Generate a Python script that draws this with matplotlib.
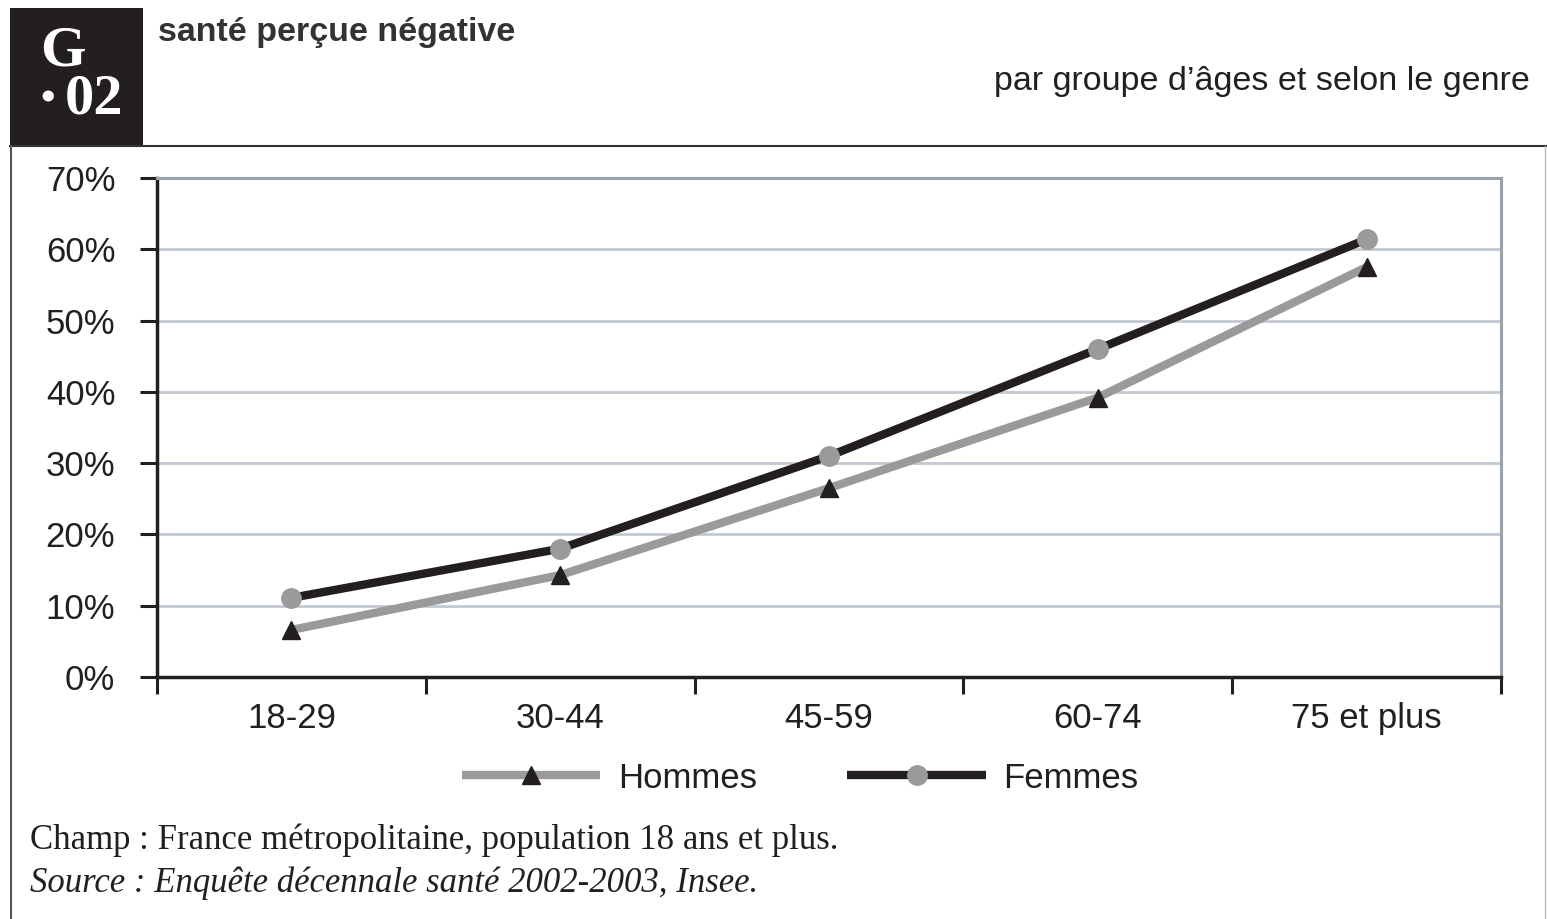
import matplotlib
matplotlib.use("Agg")
import matplotlib.pyplot as plt
from matplotlib.patches import Rectangle
from matplotlib.lines import Line2D
from matplotlib.ticker import FixedLocator, NullFormatter, FixedFormatter

categories = ["18-29", "30-44", "45-59", "60-74", "75 et plus"]
hommes = [6.6, 14.3, 26.5, 39.2, 57.5]
femmes = [11.1, 18.0, 31.0, 46.0, 61.4]
y_ticks = [0, 10, 20, 30, 40, 50, 60, 70]
y_labels = ["0%", "10%", "20%", "30%", "40%", "50%", "60%", "70%"]

title = "santé perçue négative"
subtitle = "par groupe d\u2019âges et selon le genre"
note1 = "Champ : France métropolitaine, population 18 ans et plus."
note2 = "Source : Enquête décennale santé 2002-2003, Insee."

narrow = ["Liberation Sans Narrow", "Liberation Sans", "DejaVu Sans"]
serif = ["Liberation Serif", "DejaVu Serif"]
ink = "#231f20"

W, H = 1547, 919
fig = plt.figure(figsize=(W / 100, H / 100), dpi=100)

def fx(px):
    return px / W

def fy(py):
    return 1 - py / H

# frame elements
fig.add_artist(Rectangle((fx(10), fy(146)), fx(133), 138 / H, transform=fig.transFigure,
                         facecolor=ink, edgecolor="none"))
fig.add_artist(Line2D([fx(10), fx(1547)], [fy(146), fy(146)], transform=fig.transFigure,
                      color="#333333", lw=1.5))
fig.add_artist(Line2D([fx(10.5), fx(10.5)], [fy(146), 0], transform=fig.transFigure,
                      color="#555555", lw=1.5))
fig.add_artist(Line2D([fx(1545), fx(1545)], [fy(146), 0], transform=fig.transFigure,
                      color="#bbbbbb", lw=1.0))

fig.text(fx(63), fy(52), "G", color="white", fontsize=42, fontweight="bold",
         family=serif, ha="center", va="center")
fig.text(fx(48), fy(101), "\u2022", color="white", fontsize=30, fontweight="bold",
         family=serif, ha="center", va="center")
fig.text(fx(94), fy(100), "02", color="white", fontsize=42, fontweight="bold",
         family=serif, ha="center", va="center")

fig.text(fx(158), fy(32), title, fontsize=24.5, fontweight="bold", family=narrow, color="#333333",
         ha="left", va="center")
fig.text(fx(1530), fy(82), subtitle, fontsize=24.5, family=narrow, color=ink,
         ha="right", va="center")

fig.text(fx(30), fy(840), note1, fontsize=25, family=serif, color=ink,
         ha="left", va="center")
fig.text(fx(30), fy(883), note2, fontsize=25, family=serif, style="italic",
         color=ink, ha="left", va="center")

ax = fig.add_axes([fx(157), fy(677), fx(1501) - fx(157), fy(178) - fy(677)])
x = list(range(len(categories)))

ax.plot(x, hommes, color="#9a9a9a", lw=6, marker="^", markersize=13,
        markerfacecolor=ink, markeredgecolor=ink, label="Hommes",
        solid_capstyle="butt", zorder=3)
ax.plot(x, femmes, color=ink, lw=6, marker="o", markersize=14,
        markerfacecolor="#9a9a9a", markeredgecolor="#9a9a9a", label="Femmes",
        solid_capstyle="butt", zorder=4)

ax.set_xlim(-0.5, len(categories) - 0.5)
ax.set_ylim(0, 70)

for yv in y_ticks[1:-1]:
    ax.axhline(yv, color="#c3c9d0", lw=2, zorder=1)

ax.set_yticks(y_ticks)
ax.set_yticklabels(y_labels, family=narrow, fontsize=25, color=ink)
ax.tick_params(axis="y", length=12, width=2.2, color=ink, pad=18)

ax.xaxis.set_major_locator(FixedLocator([i - 0.5 for i in range(len(categories) + 1)]))
ax.xaxis.set_major_formatter(NullFormatter())
ax.xaxis.set_minor_locator(FixedLocator(x))
ax.xaxis.set_minor_formatter(FixedFormatter(categories))
ax.tick_params(axis="x", which="major", length=12, width=2.2, color=ink)
ax.tick_params(axis="x", which="minor", length=0, pad=18, labelsize=25)
for lab in ax.get_xticklabels(minor=True):
    lab.set_family(narrow)
    lab.set_color(ink)

for side in ["left", "bottom"]:
    ax.spines[side].set_color(ink)
    ax.spines[side].set_linewidth(2.5)
for side in ["top", "right"]:
    ax.spines[side].set_color("#9aa3ab")
    ax.spines[side].set_linewidth(2.2)

leg = fig.legend(loc="center", bbox_to_anchor=(fx(800), fy(778)), ncol=2, frameon=False,
                 prop={"family": narrow, "size": 25}, handlelength=4.0,
                 handletextpad=0.5, columnspacing=2.6, numpoints=1)
for t in leg.get_texts():
    t.set_color(ink)

fig.savefig("out.png", dpi=100)
